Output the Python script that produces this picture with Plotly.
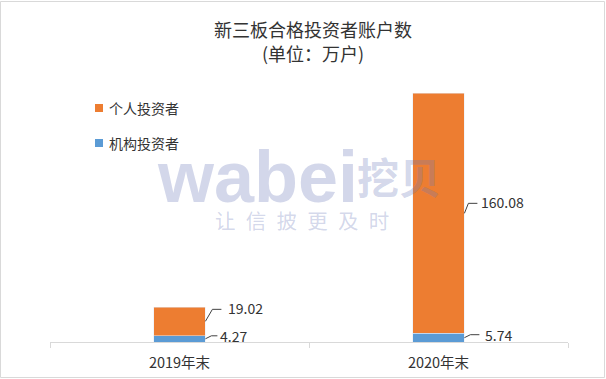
import plotly.graph_objects as go

categories = ["2019年末", "2020年末"]
series_names = ["机构投资者", "个人投资者"]
institutional = [4.27, 5.74]
individual = [19.02, 160.08]
colors = ["#5B9BD5", "#ED7D31"]
title_lines = ["新三板合格投资者账户数", "(单位：万户)"]

FONT = "Noto Sans CJK SC, Microsoft YaHei, sans-serif"
TXT = "#333333"

W, H = 606, 379
L, R, T, B = 50, 38, 72, 37
PW, PH = W - L - R, H - T - B


def px(x):
    return (x - L) / PW


def py(y):
    return (H - B - y) / PH


fig = go.Figure()
fig.add_trace(go.Bar(x=categories, y=institutional, name=series_names[0],
                     marker_color=colors[0], width=0.2, showlegend=False))
fig.add_trace(go.Bar(x=categories, y=individual, name=series_names[1],
                     marker_color=colors[1], width=0.2, showlegend=False))

shapes = []
annotations = []

# data labels with leader lines
label_specs = [
    # (cat index, y anchor, text, path, xshift, yshift)
    (0, institutional[0] / 2, institutional[0], "M0,0 L6,3 L12,3", 13, 3),
    (0, institutional[0] + individual[0] / 2, individual[0], "M0,0 L7,12 L16,12", 21, 13),
    (1, institutional[1] / 2, institutional[1], "M0,0 L6,3 L15,3", 19, 3),
    (1, institutional[1] + individual[1] / 2, individual[1], "M0,0 L4,10 L13,10", 15, 11),
]
for ci, ya, val, path, xs, ys in label_specs:
    shapes.append(dict(type="path", xref="x", yref="y", xsizemode="pixel", ysizemode="pixel",
                       xanchor=ci + 0.1, yanchor=ya, path=path,
                       line=dict(color="#404040", width=1)))
    annotations.append(dict(x=ci + 0.1, y=ya, xref="x", yref="y", text=f"{val:.2f}",
                            showarrow=False, xanchor="left", yanchor="middle",
                            xshift=xs, yshift=ys, font=dict(size=14, color=TXT, family=FONT)))

# title (two lines)
for txt, yc in zip(title_lines, [29, 52.5]):
    annotations.append(dict(x=px(313), y=py(yc), xref="paper", yref="paper", text=txt,
                            showarrow=False, xanchor="center", yanchor="middle", borderpad=0,
                            font=dict(size=18, color=TXT, family=FONT)))

# manual legend
leg = [(series_names[1], colors[1], 108), (series_names[0], colors[0], 143)]
for name, col, yc in leg:
    shapes.append(dict(type="rect", xref="paper", yref="paper",
                       x0=px(95), x1=px(103), y0=py(yc + 4), y1=py(yc - 4),
                       fillcolor=col, line=dict(width=0)))
    annotations.append(dict(x=px(108), y=py(yc), xref="paper", yref="paper", text=name,
                            showarrow=False, xanchor="left", yanchor="middle", borderpad=0,
                            font=dict(size=14, color=TXT, family=FONT)))

# watermark
WM = "rgba(108,122,185,0.3)"
annotations.append(dict(x=px(156), y=py(177), xref="paper", yref="paper", text="<b>wabei</b>",
                        showarrow=False, xanchor="left", yanchor="middle", borderpad=0,
                        height=60, valign="middle",
                        font=dict(size=72, color=WM, family="Liberation Sans, Arial, sans-serif")))
annotations.append(dict(x=px(356), y=py(175), xref="paper", yref="paper", text="<b>挖贝</b>",
                        showarrow=False, xanchor="left", yanchor="middle", borderpad=0,
                        font=dict(size=42, color=WM, family=FONT)))
slogan = "让信披更及时"
annotations.append(dict(x=px(302), y=py(220), xref="paper", yref="paper",
                        text="\u2002".join(slogan),
                        showarrow=False, xanchor="center", yanchor="middle", borderpad=0,
                        font=dict(size=20.5, color=WM, family=FONT)))

# outer border
shapes.append(dict(type="rect", xref="paper", yref="paper",
                   x0=px(0.5), x1=px(604.5), y0=py(377.5), y1=py(1.5),
                   line=dict(color="#D9D9D9", width=1), fillcolor="rgba(0,0,0,0)"))

fig.update_layout(
    width=W, height=H, autosize=False,
    margin=dict(l=L, r=R, t=T, b=B, pad=0, autoexpand=False),
    paper_bgcolor="white", plot_bgcolor="white",
    barmode="stack",
    xaxis=dict(showline=True, linecolor="#D9D9D9", linewidth=1, ticks="outside",
               tickson="boundaries", ticklen=5, tickcolor="#D9D9D9", ticklabelstandoff=8,
               automargin=False,
               tickfont=dict(size=14.5, color=TXT, family=FONT), showgrid=False),
    yaxis=dict(range=[0, 180], visible=False, showgrid=False, automargin=False),
    shapes=shapes, annotations=annotations,
    showlegend=False,
)

fig.write_html("out.html", config={"displayModeBar": False},
               post_script="document.body.style.margin='0';document.body.style.overflow='hidden';")
